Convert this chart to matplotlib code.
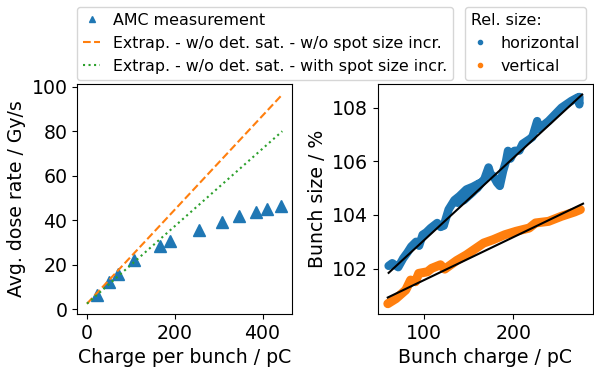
import matplotlib.pyplot as plt

# left panel: dose rate vs charge
charge = [22, 51, 71, 108, 166, 190, 256, 307, 346, 385, 411, 442]
dose_rate = [6.6, 12.2, 15.7, 22.3, 28.2, 30.8, 35.4, 39.3, 42.1, 43.9, 45.1, 46.5]
extrap_charge = [0, 445]
extrap_no_spot = [2.5, 96.5]
extrap_with_spot = [2.5, 80.0]

# right panel: relative bunch size vs bunch charge (scan passes)
h_charge = [60.9, 65, 71.7, 77.2, 82, 86.2, 91.6, 95, 98.9, 103, 107.9, 115.2, 119,
            122.5, 127.9, 134.4, 140, 147.8, 155, 163.4, 155, 145, 138, 150, 160, 168,
            172.5, 175, 177.9, 182, 185.1, 188.8, 192, 194.2, 197, 201.4, 206.9, 210.5,
            217.7, 221.4, 226.8, 228.6, 239.5, 254, 264.9, 272.1, 273.9, 274]
h_size = [102.1, 102.2, 102.05, 102.38, 102.6, 102.82, 103.0, 102.85, 103.26, 103.35,
          103.51, 103.7, 103.55, 103.6, 104.2, 104.55, 104.7, 104.95, 105.05, 105.2,
          104.85, 104.55, 104.45, 104.75, 105.0, 105.35, 105.77, 105.5, 105.45, 105.2,
          105.08, 105.64, 106.0, 106.39, 106.1, 106.39, 106.4, 106.65, 106.81, 106.9,
          107.5, 107.21, 107.5, 108.0, 108.25, 108.38, 108.12, 108.4]
v_charge = [60.1, 69.2, 80.1, 85.5, 90.9, 94.6, 104.3, 109.1, 118.8, 123.6, 137, 147.8,
            158.7, 167, 177.9, 190.6, 203.3, 217.8, 225, 239.5, 254, 268.5, 275]
v_size = [100.69, 100.88, 101.2, 101.57, 101.51, 101.82, 101.88, 102.01, 102.14, 101.98,
          102.3, 102.51, 102.76, 102.95, 103.08, 103.26, 103.39, 103.51, 103.7, 103.76,
          103.95, 104.11, 104.2]

# linear fits (end points)
h_fit_charge = [61, 277]
h_fit_size = [101.84, 108.49]
v_fit_charge = [60, 278]
v_fit_size = [100.92, 104.42]

plt.rcParams["font.size"] = 13.6

fig, (ax1, ax2) = plt.subplots(1, 2, figsize=(5.94, 3.67), dpi=100)
fig.subplots_adjust(left=0.13, right=0.998, bottom=0.144, top=0.771, wspace=0.4)

ax1.plot(charge, dose_rate, "^", color="C0", ms=8, label="AMC measurement")
ax1.plot(extrap_charge, extrap_no_spot, "--", color="C1",
         label="Extrap. - w/o det. sat. - w/o spot size incr.")
ax1.plot(extrap_charge, extrap_with_spot, ":", color="C2",
         label="Extrap. - w/o det. sat. - with spot size incr.")
ax1.set_xlabel("Charge per bunch / pC")
ax1.set_ylabel("Avg. dose rate / Gy/s")

ax2.plot(h_charge, h_size, "-", color="C0", lw=6, solid_capstyle="round",
         solid_joinstyle="round")
ax2.plot(h_charge, h_size, ".", color="C0", label="horizontal")
ax2.plot(v_charge, v_size, "-", color="C1", lw=6.5, solid_capstyle="round",
         solid_joinstyle="round")
ax2.plot(v_charge, v_size, ".", color="C1", label="vertical")
ax2.plot(h_fit_charge, h_fit_size, color="black", lw=1.5)
ax2.plot(v_fit_charge, v_fit_size, color="black", lw=1.5)
ax2.set_xlabel("Bunch charge / pC")
ax2.set_ylabel("Bunch size / %")

ax1.legend(loc="lower left", bbox_to_anchor=(0.1296, 0.782), bbox_transform=fig.transFigure,
           borderaxespad=0, fontsize=11.4, handlelength=1.05, numpoints=1, markerscale=0.6)
ax2.legend(loc="lower left", bbox_to_anchor=(0.783, 0.782), bbox_transform=fig.transFigure,
           borderaxespad=0, fontsize=11.4, handlelength=1.05, title="Rel. size:",
           title_fontsize=11.4, alignment="left")

plt.savefig("out.png", dpi=100)
